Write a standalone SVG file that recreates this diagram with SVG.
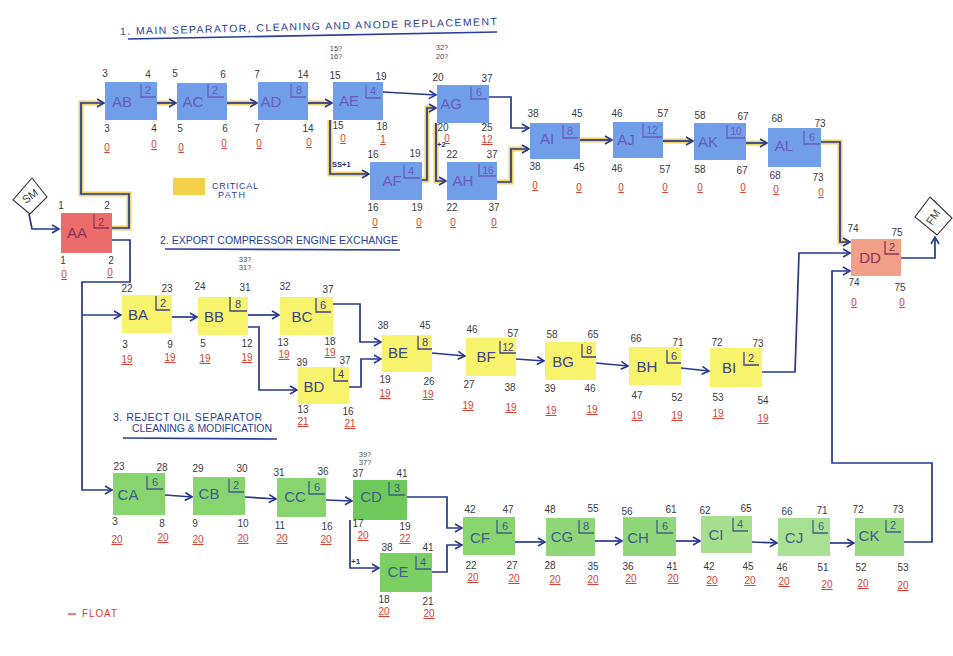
<svg xmlns="http://www.w3.org/2000/svg" width="953" height="656" viewBox="0 0 953 656">
<defs>
<marker id="ar" markerUnits="userSpaceOnUse" markerWidth="10" markerHeight="10" refX="8" refY="5" orient="auto">
<path d="M1,1 L8,5 L1,9" fill="none" stroke="#26378f" stroke-width="1.6"/>
</marker>
<style>
text{font-family:"Liberation Sans",Arial,sans-serif}
.n{font-size:10px;fill:#3a3a44;text-anchor:middle}
.s{font-size:7.5px;fill:#4a4a55;text-anchor:middle}
.f{font-size:10px;fill:#d8412f;text-anchor:middle;text-decoration:underline}
.lb{font-size:15px;text-anchor:middle}
.du{font-size:11px;text-anchor:middle}
.br{fill:none;stroke-width:1.3}
.nb rect{fill:#719ee8}
.nb .lb,.nb .du{fill:#6a5cbd}
.nb .br{stroke:#6a5cbd}
.nr rect{fill:#ec6b6b}
.nd rect{fill:#f19f87}
.nr .lb,.nr .du,.nd .lb,.nd .du{fill:#8f3458}
.nr .br,.nd .br{stroke:#8f3458}
.ny rect{fill:#f8f36c}
.ny .lb,.ny .du{fill:#3e4288}
.ny .br{stroke:#3e4288}
.ng rect{fill:#88d46f}
.ng .lb,.ng .du{fill:#3d6088}
.ng .br{stroke:#3d6088}
.cp path{fill:none;stroke:#e8c440;stroke-width:5;opacity:.8}
.cn path{fill:none;stroke:#26378f;stroke-width:1.7;marker-end:url(#ar)}
.ttl{font-size:10.5px;fill:#2a3d9a}
.ul{stroke:#2a3d9a;stroke-width:1.6;fill:none}
.dm{fill:#fff;stroke:#333;stroke-width:1.1}
</style>
</defs>
<rect width="953" height="656" fill="#fff"/>

<!-- titles -->
<g id="titles">
<text class="ttl" x="120" y="35" textLength="377" lengthAdjust="spacing" transform="rotate(-1.5 120 35)">1. MAIN SEPARATOR, CLEANING AND ANODE REPLACEMENT</text>
<path class="ul" d="M128,39 L497,32"/>
<text class="ttl" x="160" y="244" textLength="238" lengthAdjust="spacing">2. EXPORT COMPRESSOR ENGINE EXCHANGE</text>
<path class="ul" d="M165,249 L400,250"/>
<text class="ttl" x="113" y="421" textLength="149" lengthAdjust="spacing">3. REJECT OIL SEPARATOR</text>
<text class="ttl" x="132" y="432" textLength="140" lengthAdjust="spacing">CLEANING &amp; MODIFICATION</text>
<path class="ul" d="M123,438 L277,439"/>
</g>

<!-- legends -->
<g id="legend-critical">
<rect x="173" y="178" width="32" height="17" fill="#f3d14a"/>
<text class="ttl" x="212" y="189" style="font-size:9px" textLength="46" lengthAdjust="spacing">CRITICAL</text>
<text class="ttl" x="218" y="198" style="font-size:9px" textLength="27" lengthAdjust="spacing">PATH</text>
</g>
<g id="legend-float">
<path d="M68,614 H76" stroke="#d8412f" stroke-width="1.3"/>
<text x="82" y="617" style="font-size:10px;fill:#d8412f" textLength="35" lengthAdjust="spacing">FLOAT</text>
</g>

<!-- connectors -->
<g id="connectors">
<g class="cp">
<path d="M112,228 H129 V194 H81 V103 H103"/>
<path d="M157,103 H175"/>
<path d="M227,103 H256"/>
<path d="M308,103 H331"/>
<path d="M330,120 V174 H368"/>
<path d="M422,180 H427 V108 H435"/>
<path d="M436,123 V181 H445"/>
<path d="M497,182 H511 V149 H528"/>
<path d="M580,140 H611"/>
<path d="M663,141 H692"/>
<path d="M746,143 H766"/>
<path d="M821,142 H840 V242 H849"/>
</g>
<g class="cn">
<path d="M29,214 L32,229 H59"/>
<path d="M112,228 H129 V194 H81 V103 H104"/>
<path d="M157,103 H176"/>
<path d="M227,103 H257"/>
<path d="M308,103 H332"/>
<path d="M383,92 L436,95"/>
<path d="M330,120 V174 H369"/>
<path d="M422,180 H427 V108 H436"/>
<path d="M436,123 V181 H446"/>
<path d="M489,97 H511 V128 H529"/>
<path d="M497,182 H511 V149 H529"/>
<path d="M580,140 H612"/>
<path d="M663,141 H693"/>
<path d="M746,143 H767"/>
<path d="M821,142 H840 V242 H850"/>
<path d="M762,372 H795 L799,253 H850"/>
<path d="M904,542 H932 V463 H832 V271 H850"/>
<path d="M901,258 H935 V237"/>
<path d="M112,240 H130 V282 H82 V490 H112"/>
<path d="M82,315 H121"/>
<path d="M172,317 H197"/>
<path d="M248,315 H279"/>
<path d="M248,327 H259 V390 H297"/>
<path d="M333,304 H360 V342 H381"/>
<path d="M349,387 H361 V359 H381"/>
<path d="M432,353 L465,356"/>
<path d="M516,359 L544,361"/>
<path d="M596,363 L628,366"/>
<path d="M681,368 L709,371"/>
<path d="M165,495 L192,497"/>
<path d="M245,497 L276,499"/>
<path d="M326,500 L352,501"/>
<path d="M407,497 H447 V528 H462"/>
<path d="M350,520 V568 H379"/>
<path d="M432,572 H447 V545 H462"/>
<path d="M515,542 H545"/>
<path d="M595,541 H622"/>
<path d="M676,541 H700"/>
<path d="M752,542 L777,543"/>
<path d="M830,543 H854"/>
</g>
<text x="332" y="167" style="font-size:7.5px;fill:#2a3060;font-weight:bold">SS+1</text>
<text x="437" y="147" style="font-size:7.5px;fill:#2a3060;font-weight:bold">+2</text>
<text x="351" y="564" style="font-size:8px;fill:#2a3060;font-weight:bold">+1</text>
</g>

<!-- start / finish -->
<g id="SM">
<polygon class="dm" points="32,178 47,197 30,214 13,200"/>
<text x="30" y="200" transform="rotate(-35 30 196)" style="font-size:11px;fill:#444;text-anchor:middle">SM</text>
</g>
<g id="FM">
<polygon class="dm" points="930,197 952,218 937,235 915,217"/>
<text x="933" y="221" transform="rotate(-55 933 217)" style="font-size:11px;fill:#444;text-anchor:middle">FM</text>
</g>

<!-- section 1 -->
<g id="AA" class="nr">
<rect x="61" y="213" width="51" height="40"/>
<text class="lb" x="77" y="238">AA</text>
<path class="br" d="M94,214V228H109"/><text class="du" x="101" y="226">2</text>
<text class="n" x="61" y="209">1</text><text class="n" x="107" y="209">2</text>
<text class="n" x="63" y="264">1</text><text class="n" x="111" y="264">2</text>
<text class="f" x="64" y="278">0</text><text class="f" x="110" y="276">0</text>
</g>
<g id="AB" class="nb">
<rect x="105" y="82" width="52" height="38"/>
<text class="lb" x="122" y="107">AB</text>
<path class="br" d="M141,84V97H156"/><text class="du" x="148" y="94">2</text>
<text class="n" x="105" y="77">3</text><text class="n" x="148" y="78">4</text>
<text class="n" x="107" y="132">3</text><text class="n" x="154" y="132">4</text>
<text class="f" x="107" y="151">0</text><text class="f" x="154" y="148">0</text>
</g>
<g id="AC" class="nb">
<rect x="177" y="83" width="50" height="37"/>
<text class="lb" x="193" y="107">AC</text>
<path class="br" d="M208,84V97H224"/><text class="du" x="215" y="94">2</text>
<text class="n" x="175" y="77">5</text><text class="n" x="223" y="78">6</text>
<text class="n" x="180" y="132">5</text><text class="n" x="225" y="132">6</text>
<text class="f" x="181" y="151">0</text><text class="f" x="224" y="147">0</text>
</g>
<g id="AD" class="nb">
<rect x="258" y="82" width="50" height="38"/>
<text class="lb" x="271" y="107">AD</text>
<path class="br" d="M291,84V97H306"/><text class="du" x="299" y="94">8</text>
<text class="n" x="257" y="78">7</text><text class="n" x="303" y="78">14</text>
<text class="n" x="257" y="132">7</text><text class="n" x="308" y="132">14</text>
<text class="f" x="259" y="147">0</text><text class="f" x="309" y="146">0</text>
</g>
<g id="AE" class="nb">
<rect x="333" y="82" width="50" height="38"/>
<text class="lb" x="349" y="106">AE</text>
<path class="br" d="M366,85V98H381"/><text class="du" x="373" y="95">4</text>
<text class="s" x="336" y="51">15?</text><text class="s" x="336" y="59">16?</text>
<text class="n" x="335" y="79">15</text><text class="n" x="381" y="80">19</text>
<text class="n" x="338" y="129">15</text><text class="n" x="382" y="130">18</text>
<text class="f" x="343" y="142">0</text><text class="f" x="383" y="143">1</text>
</g>
<g id="AF" class="nb">
<rect x="370" y="162" width="52" height="38"/>
<text class="lb" x="392" y="186">AF</text>
<path class="br" d="M404,165V178H420"/><text class="du" x="411" y="175">4</text>
<text class="n" x="373" y="158">16</text><text class="n" x="415" y="157">19</text>
<text class="n" x="373" y="211">16</text><text class="n" x="417" y="211">19</text>
<text class="f" x="375" y="226">0</text><text class="f" x="419" y="226">0</text>
</g>
<g id="AG" class="nb">
<rect x="437" y="85" width="52" height="38"/>
<text class="lb" x="451" y="109">AG</text>
<path class="br" d="M471,87V99H487"/><text class="du" x="479" y="96">6</text>
<text class="s" x="442" y="50">32?</text><text class="s" x="442" y="59">20?</text>
<text class="n" x="438" y="81">20</text><text class="n" x="487" y="82">37</text>
<text class="n" x="443" y="131">20</text><text class="n" x="487" y="131">25</text>
<text class="f" x="447" y="142">0</text><text class="f" x="487" y="143">12</text>
</g>
<g id="AH" class="nb">
<rect x="447" y="162" width="50" height="38"/>
<text class="lb" x="463" y="186">AH</text>
<path class="br" d="M479,164V176H496"/><text class="du" x="488" y="174" style="font-size:10px">16</text>
<text class="n" x="452" y="158">22</text><text class="n" x="492" y="158">37</text>
<text class="n" x="452" y="211">22</text><text class="n" x="494" y="211">37</text>
<text class="f" x="453" y="226">0</text><text class="f" x="494" y="226">0</text>
</g>
<g id="AI" class="nb">
<rect x="530" y="123" width="50" height="36"/>
<text class="lb" x="547" y="144">AI</text>
<path class="br" d="M563,125V138H578"/><text class="du" x="570" y="135">8</text>
<text class="n" x="533" y="117">38</text><text class="n" x="577" y="117">45</text>
<text class="n" x="535" y="170">38</text><text class="n" x="579" y="171">45</text>
<text class="f" x="535" y="189">0</text><text class="f" x="579" y="191">0</text>
</g>
<g id="AJ" class="nb">
<rect x="613" y="122" width="50" height="36"/>
<text class="lb" x="626" y="145">AJ</text>
<path class="br" d="M643,124V137H662"/><text class="du" x="652" y="134" style="font-size:10px">12</text>
<text class="n" x="617" y="117">46</text><text class="n" x="663" y="117">57</text>
<text class="n" x="617" y="172">46</text><text class="n" x="665" y="173">57</text>
<text class="f" x="621" y="191">0</text><text class="f" x="665" y="191">0</text>
</g>
<g id="AK" class="nb">
<rect x="694" y="123" width="52" height="37"/>
<text class="lb" x="708" y="147">AK</text>
<path class="br" d="M727,125V138H745"/><text class="du" x="736" y="135" style="font-size:10px">10</text>
<text class="n" x="700" y="119">58</text><text class="n" x="743" y="120">67</text>
<text class="n" x="700" y="173">58</text><text class="n" x="742" y="174">67</text>
<text class="f" x="700" y="191">0</text><text class="f" x="743" y="191">0</text>
</g>
<g id="AL" class="nb">
<rect x="768" y="128" width="53" height="39"/>
<text class="lb" x="784" y="151">AL</text>
<path class="br" d="M804,131V144H820"/><text class="du" x="812" y="141">6</text>
<text class="n" x="777" y="122">68</text><text class="n" x="820" y="127">73</text>
<text class="n" x="775" y="179">68</text><text class="n" x="818" y="181">73</text>
<text class="f" x="776" y="193">0</text><text class="f" x="821" y="196">0</text>
</g>
<g id="DD" class="nd">
<rect x="851" y="239" width="50" height="37"/>
<text class="lb" x="870" y="263">DD</text>
<path class="br" d="M885,241V254H899"/><text class="du" x="892" y="251">2</text>
<text class="n" x="853" y="232">74</text><text class="n" x="897" y="236">75</text>
<text class="n" x="854" y="286">74</text><text class="n" x="900" y="291">75</text>
<text class="f" x="854" y="306">0</text><text class="f" x="902" y="306">0</text>
</g>

<!-- section 2 -->
<g id="BA" class="ny">
<rect x="122" y="295" width="50" height="38"/>
<text class="lb" x="138" y="320">BA</text>
<path class="br" d="M156,296V310H170"/><text class="du" x="163" y="307">2</text>
<text class="n" x="127" y="292">22</text><text class="n" x="167" y="292">23</text>
<text class="n" x="125" y="348">3</text><text class="n" x="170" y="348">9</text>
<text class="f" x="127" y="363">19</text><text class="f" x="170" y="361">19</text>
</g>
<g id="BB" class="ny">
<rect x="198" y="297" width="50" height="38"/>
<text class="lb" x="214" y="322">BB</text>
<path class="br" d="M230,297V311H247"/><text class="du" x="238" y="308">8</text>
<text class="s" x="245" y="262">33?</text><text class="s" x="245" y="270">31?</text>
<text class="n" x="200" y="290">24</text><text class="n" x="245" y="291">31</text>
<text class="n" x="203" y="347">5</text><text class="n" x="247" y="347">12</text>
<text class="f" x="205" y="362">19</text><text class="f" x="247" y="361">19</text>
</g>
<g id="BC" class="ny">
<rect x="280" y="297" width="53" height="38"/>
<text class="lb" x="302" y="322">BC</text>
<path class="br" d="M316,298V312H331"/><text class="du" x="323" y="309">6</text>
<text class="n" x="285" y="290">32</text><text class="n" x="328" y="293">37</text>
<text class="n" x="283" y="346">13</text><text class="n" x="330" y="345">18</text>
<text class="f" x="284" y="358">19</text><text class="f" x="330" y="356">19</text>
</g>
<g id="BD" class="ny">
<rect x="298" y="367" width="51" height="37"/>
<text class="lb" x="314" y="392">BD</text>
<path class="br" d="M334,368V381H348"/><text class="du" x="341" y="378">4</text>
<text class="n" x="302" y="366">39</text><text class="n" x="345" y="364">37</text>
<text class="n" x="303" y="413">13</text><text class="n" x="348" y="415">16</text>
<text class="f" x="303" y="425">21</text><text class="f" x="350" y="427">21</text>
</g>
<g id="BE" class="ny">
<rect x="382" y="335" width="50" height="37"/>
<text class="lb" x="398" y="358">BE</text>
<path class="br" d="M418,336V349H432"/><text class="du" x="425" y="346">8</text>
<text class="n" x="383" y="329">38</text><text class="n" x="425" y="329">45</text>
<text class="n" x="385" y="383">19</text><text class="n" x="429" y="385">26</text>
<text class="f" x="385" y="397">19</text><text class="f" x="428" y="398">19</text>
</g>
<g id="BF" class="ny">
<rect x="466" y="338" width="50" height="38"/>
<text class="lb" x="486" y="362">BF</text>
<path class="br" d="M500,341V353H516"/><text class="du" x="508" y="351" style="font-size:10px">12</text>
<text class="n" x="472" y="333">46</text><text class="n" x="513" y="337">57</text>
<text class="n" x="469" y="388">27</text><text class="n" x="510" y="391">38</text>
<text class="f" x="468" y="409">19</text><text class="f" x="511" y="411">19</text>
</g>
<g id="BG" class="ny">
<rect x="545" y="342" width="51" height="38"/>
<text class="lb" x="563" y="367">BG</text>
<path class="br" d="M582,344V357H596"/><text class="du" x="589" y="354">8</text>
<text class="n" x="552" y="338">58</text><text class="n" x="593" y="338">65</text>
<text class="n" x="550" y="392">39</text><text class="n" x="590" y="392">46</text>
<text class="f" x="551" y="414">19</text><text class="f" x="592" y="413">19</text>
</g>
<g id="BH" class="ny">
<rect x="629" y="347" width="52" height="38"/>
<text class="lb" x="647" y="372">BH</text>
<path class="br" d="M667,350V363H681"/><text class="du" x="674" y="360">6</text>
<text class="n" x="636" y="342">66</text><text class="n" x="678" y="346">71</text>
<text class="n" x="637" y="399">47</text><text class="n" x="677" y="401">52</text>
<text class="f" x="637" y="419">19</text><text class="f" x="677" y="419">19</text>
</g>
<g id="BI" class="ny">
<rect x="710" y="348" width="52" height="39"/>
<text class="lb" x="729" y="373">BI</text>
<path class="br" d="M744,352V365H759"/><text class="du" x="751" y="362">2</text>
<text class="n" x="717" y="346">72</text><text class="n" x="758" y="347">73</text>
<text class="n" x="718" y="401">53</text><text class="n" x="763" y="404">54</text>
<text class="f" x="718" y="417">19</text><text class="f" x="763" y="422">19</text>
</g>

<!-- section 3 -->
<g id="CA" class="ng">
<rect x="113" y="473" width="52" height="42"/>
<text class="lb" x="128" y="500">CA</text>
<path class="br" d="M147,476V489H163"/><text class="du" x="155" y="486">6</text>
<text class="n" x="119" y="470">23</text><text class="n" x="162" y="471">28</text>
<text class="n" x="115" y="525">3</text><text class="n" x="162" y="527">8</text>
<text class="f" x="117" y="543">20</text><text class="f" x="163" y="541">20</text>
</g>
<g id="CB" class="ng">
<rect x="193" y="477" width="52" height="38"/>
<text class="lb" x="209" y="499">CB</text>
<path class="br" d="M229,479V492H244"/><text class="du" x="236" y="489">2</text>
<text class="n" x="198" y="472">29</text><text class="n" x="242" y="472">30</text>
<text class="n" x="195" y="527">9</text><text class="n" x="243" y="527">10</text>
<text class="f" x="198" y="543">20</text><text class="f" x="243" y="542">20</text>
</g>
<g id="CC" class="ng">
<rect x="277" y="478" width="49" height="39"/>
<text class="lb" x="295" y="502">CC</text>
<path class="br" d="M309,481V494H325"/><text class="du" x="317" y="491">6</text>
<text class="n" x="279" y="476">31</text><text class="n" x="323" y="475">36</text>
<text class="n" x="280" y="529">11</text><text class="n" x="327" y="530">16</text>
<text class="f" x="282" y="542">20</text><text class="f" x="326" y="543">20</text>
</g>
<g id="CD" class="ng">
<rect x="353" y="480" width="54" height="40" style="fill:#6fc95a"/>
<text class="lb" x="371" y="502">CD</text>
<path class="br" d="M389,482V495H405"/><text class="du" x="397" y="492">3</text>
<text class="s" x="365" y="457">39?</text><text class="s" x="365" y="465">37?</text>
<text class="n" x="358" y="477">37</text><text class="n" x="402" y="477">41</text>
<text class="n" x="358" y="527">17</text><text class="n" x="405" y="530">19</text>
<text class="f" x="363" y="539">20</text><text class="f" x="405" y="542">22</text>
</g>
<g id="CE" class="ng">
<rect x="380" y="553" width="52" height="39" style="fill:#7bcf63"/>
<text class="lb" x="398" y="577">CE</text>
<path class="br" d="M416,556V569H431"/><text class="du" x="423" y="566">4</text>
<text class="n" x="387" y="551">38</text><text class="n" x="428" y="551">41</text>
<text class="n" x="384" y="603">18</text><text class="n" x="428" y="605">21</text>
<text class="f" x="384" y="615">20</text><text class="f" x="429" y="617">20</text>
</g>
<g id="CF" class="ng">
<rect x="463" y="517" width="52" height="38"/>
<text class="lb" x="480" y="543">CF</text>
<path class="br" d="M497,520V533H512"/><text class="du" x="505" y="530">6</text>
<text class="n" x="470" y="513">42</text><text class="n" x="508" y="513">47</text>
<text class="n" x="471" y="569">22</text><text class="n" x="512" y="569">27</text>
<text class="f" x="473" y="581">20</text><text class="f" x="514" y="582">20</text>
</g>
<g id="CG" class="ng">
<rect x="546" y="518" width="49" height="38" style="fill:#8ed677"/>
<text class="lb" x="562" y="542">CG</text>
<path class="br" d="M579,520V533H594"/><text class="du" x="586" y="530">8</text>
<text class="n" x="550" y="513">48</text><text class="n" x="593" y="512">55</text>
<text class="n" x="550" y="569">28</text><text class="n" x="593" y="570">35</text>
<text class="f" x="555" y="583">20</text><text class="f" x="593" y="583">20</text>
</g>
<g id="CH" class="ng">
<rect x="623" y="517" width="53" height="39" style="fill:#90d779"/>
<text class="lb" x="638" y="543">CH</text>
<path class="br" d="M657,520V533H673"/><text class="du" x="665" y="530">6</text>
<text class="n" x="627" y="515">56</text><text class="n" x="671" y="513">61</text>
<text class="n" x="628" y="570">36</text><text class="n" x="672" y="570">41</text>
<text class="f" x="631" y="582">20</text><text class="f" x="673" y="582">20</text>
</g>
<g id="CI" class="ng">
<rect x="701" y="516" width="51" height="37" style="fill:#a6e08f"/>
<text class="lb" x="716" y="540">CI</text>
<path class="br" d="M733,518V531H748"/><text class="du" x="740" y="528">4</text>
<text class="n" x="705" y="514">62</text><text class="n" x="746" y="512">65</text>
<text class="n" x="709" y="570">42</text><text class="n" x="748" y="570">45</text>
<text class="f" x="712" y="584">20</text><text class="f" x="750" y="584">20</text>
</g>
<g id="CJ" class="ng">
<rect x="778" y="518" width="52" height="38" style="fill:#a8e193"/>
<text class="lb" x="794" y="543">CJ</text>
<path class="br" d="M813,520V533H828"/><text class="du" x="821" y="530">6</text>
<text class="n" x="787" y="515">66</text><text class="n" x="822" y="514">71</text>
<text class="n" x="782" y="571">46</text><text class="n" x="823" y="571">51</text>
<text class="f" x="784" y="585">20</text><text class="f" x="827" y="588">20</text>
</g>
<g id="CK" class="ng">
<rect x="855" y="518" width="49" height="38" style="fill:#97da80"/>
<text class="lb" x="869" y="541">CK</text>
<path class="br" d="M886,520V532H901"/><text class="du" x="893" y="529">2</text>
<text class="n" x="858" y="513">72</text><text class="n" x="898" y="513">73</text>
<text class="n" x="861" y="571">52</text><text class="n" x="903" y="571">53</text>
<text class="f" x="863" y="587">20</text><text class="f" x="903" y="589">20</text>
</g>
</svg>
